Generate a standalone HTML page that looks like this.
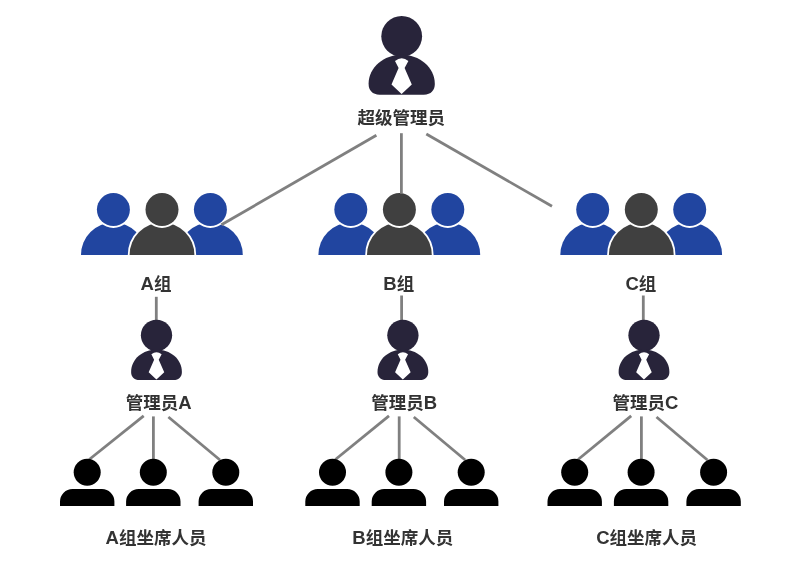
<!DOCTYPE html>
<html lang="zh-CN">
<head>
<meta charset="utf-8">
<title>组织结构</title>
<style>
html,body{margin:0;padding:0;background:#fff;}
body{width:800px;height:561px;overflow:hidden;}
svg{display:block;}
.t .l{font-size:18.5px;}
.t text{font-family:"Liberation Sans","Noto Sans CJK SC",sans-serif;font-weight:bold;font-size:17.5px;fill:#333333;}
svg{will-change:transform;}
</style>
</head>
<body>
<svg width="800" height="561" viewBox="0 0 800 561">
<rect width="800" height="561" fill="#fff"/>
<line x1="426.3" y1="134" x2="552" y2="206.3" stroke="#808080" stroke-width="2.8"/>
<line x1="156.3" y1="296.8" x2="156.3" y2="321" stroke="#808080" stroke-width="2.8"/>
<line x1="401.6" y1="295.5" x2="401.6" y2="321" stroke="#808080" stroke-width="2.8"/>
<line x1="643.3" y1="295.5" x2="643.3" y2="321" stroke="#808080" stroke-width="2.8"/>
<line x1="143.7" y1="415.9" x2="89.2" y2="459.5" stroke="#808080" stroke-width="2.8"/>
<line x1="153.4" y1="416.4" x2="153.4" y2="460" stroke="#808080" stroke-width="2.8"/>
<line x1="168.4" y1="417" x2="220" y2="460" stroke="#808080" stroke-width="2.8"/>
<line x1="389" y1="415.8" x2="335.4" y2="459.5" stroke="#808080" stroke-width="2.8"/>
<line x1="399.2" y1="416.4" x2="399.2" y2="460" stroke="#808080" stroke-width="2.8"/>
<line x1="413.8" y1="417" x2="465.2" y2="460" stroke="#808080" stroke-width="2.8"/>
<line x1="631.2" y1="415.8" x2="578.1" y2="459.5" stroke="#808080" stroke-width="2.8"/>
<line x1="641.4" y1="416.4" x2="641.4" y2="460" stroke="#808080" stroke-width="2.8"/>
<line x1="656.5" y1="417" x2="707.4" y2="460" stroke="#808080" stroke-width="2.8"/>
<g transform="translate(401.7,16) scale(1)">
<circle cx="0" cy="20.3" r="20.4" fill="#28243a"/>
<path d="M-33.1,68 C-33.1,51 -17.5,38.8 0,38.8 C17.5,38.8 33.1,51 33.1,68 C33.1,74 29.5,78.7 22,78.7 L-22,78.7 C-29.5,78.7 -33.1,74 -33.1,68 Z" fill="#28243a"/>
<path d="M-6.7,45 Q0,39.6 6.7,45 L2.9,52 L10.1,68.5 L-0.1,78 L-10.2,68.5 L-3.1,52 Z" fill="#fff"/>
</g>
<g><path d="M81.0,255 A32.4,32.4 0 0 1 145.8,255 Z" fill="#fff" stroke="#fff" stroke-width="3.6"/><path d="M81.0,255 A32.4,32.4 0 0 1 145.8,255 Z" fill="#2145a0"/><circle cx="113.4" cy="209.6" r="18.3" fill="#fff"/><circle cx="113.4" cy="209.6" r="16.5" fill="#2145a0"/><path d="M178.0,255 A32.4,32.4 0 0 1 242.8,255 Z" fill="#fff" stroke="#fff" stroke-width="3.6"/><path d="M178.0,255 A32.4,32.4 0 0 1 242.8,255 Z" fill="#2145a0"/><circle cx="210.4" cy="209.6" r="18.3" fill="#fff"/><circle cx="210.4" cy="209.6" r="16.5" fill="#2145a0"/><path d="M129.6,255 A32.4,32.4 0 0 1 194.4,255 Z" fill="#fff" stroke="#fff" stroke-width="3.6"/><path d="M129.6,255 A32.4,32.4 0 0 1 194.4,255 Z" fill="#404040"/><circle cx="162" cy="209.6" r="18.3" fill="#fff"/><circle cx="162" cy="209.6" r="16.5" fill="#404040"/></g>
<g><path d="M318.4,255 A32.4,32.4 0 0 1 383.2,255 Z" fill="#fff" stroke="#fff" stroke-width="3.6"/><path d="M318.4,255 A32.4,32.4 0 0 1 383.2,255 Z" fill="#2145a0"/><circle cx="350.8" cy="209.6" r="18.3" fill="#fff"/><circle cx="350.8" cy="209.6" r="16.5" fill="#2145a0"/><path d="M415.4,255 A32.4,32.4 0 0 1 480.2,255 Z" fill="#fff" stroke="#fff" stroke-width="3.6"/><path d="M415.4,255 A32.4,32.4 0 0 1 480.2,255 Z" fill="#2145a0"/><circle cx="447.8" cy="209.6" r="18.3" fill="#fff"/><circle cx="447.8" cy="209.6" r="16.5" fill="#2145a0"/><path d="M367.0,255 A32.4,32.4 0 0 1 431.8,255 Z" fill="#fff" stroke="#fff" stroke-width="3.6"/><path d="M367.0,255 A32.4,32.4 0 0 1 431.8,255 Z" fill="#404040"/><circle cx="399.4" cy="209.6" r="18.3" fill="#fff"/><circle cx="399.4" cy="209.6" r="16.5" fill="#404040"/></g>
<g><path d="M560.3,255 A32.4,32.4 0 0 1 625.1,255 Z" fill="#fff" stroke="#fff" stroke-width="3.6"/><path d="M560.3,255 A32.4,32.4 0 0 1 625.1,255 Z" fill="#2145a0"/><circle cx="592.7" cy="209.6" r="18.3" fill="#fff"/><circle cx="592.7" cy="209.6" r="16.5" fill="#2145a0"/><path d="M657.3,255 A32.4,32.4 0 0 1 722.1,255 Z" fill="#fff" stroke="#fff" stroke-width="3.6"/><path d="M657.3,255 A32.4,32.4 0 0 1 722.1,255 Z" fill="#2145a0"/><circle cx="689.7" cy="209.6" r="18.3" fill="#fff"/><circle cx="689.7" cy="209.6" r="16.5" fill="#2145a0"/><path d="M608.9,255 A32.4,32.4 0 0 1 673.7,255 Z" fill="#fff" stroke="#fff" stroke-width="3.6"/><path d="M608.9,255 A32.4,32.4 0 0 1 673.7,255 Z" fill="#404040"/><circle cx="641.3" cy="209.6" r="18.3" fill="#fff"/><circle cx="641.3" cy="209.6" r="16.5" fill="#404040"/></g>
<line x1="376.4" y1="135.2" x2="221.4" y2="224.8" stroke="#808080" stroke-width="2.8"/>
<line x1="401.4" y1="133.2" x2="401.4" y2="193.6" stroke="#808080" stroke-width="2.8"/>
<g transform="translate(156.5,319.75) scale(0.767)">
<circle cx="0" cy="20.3" r="20.4" fill="#28243a"/>
<path d="M-33.1,68 C-33.1,51 -17.5,38.8 0,38.8 C17.5,38.8 33.1,51 33.1,68 C33.1,74 29.5,78.7 22,78.7 L-22,78.7 C-29.5,78.7 -33.1,74 -33.1,68 Z" fill="#28243a"/>
<path d="M-6.7,45 Q0,39.6 6.7,45 L2.9,52 L10.1,68.5 L-0.1,78 L-10.2,68.5 L-3.1,52 Z" fill="#fff"/>
</g>
<g transform="translate(402.9,319.75) scale(0.767)">
<circle cx="0" cy="20.3" r="20.4" fill="#28243a"/>
<path d="M-33.1,68 C-33.1,51 -17.5,38.8 0,38.8 C17.5,38.8 33.1,51 33.1,68 C33.1,74 29.5,78.7 22,78.7 L-22,78.7 C-29.5,78.7 -33.1,74 -33.1,68 Z" fill="#28243a"/>
<path d="M-6.7,45 Q0,39.6 6.7,45 L2.9,52 L10.1,68.5 L-0.1,78 L-10.2,68.5 L-3.1,52 Z" fill="#fff"/>
</g>
<g transform="translate(644,319.75) scale(0.767)">
<circle cx="0" cy="20.3" r="20.4" fill="#28243a"/>
<path d="M-33.1,68 C-33.1,51 -17.5,38.8 0,38.8 C17.5,38.8 33.1,51 33.1,68 C33.1,74 29.5,78.7 22,78.7 L-22,78.7 C-29.5,78.7 -33.1,74 -33.1,68 Z" fill="#28243a"/>
<path d="M-6.7,45 Q0,39.6 6.7,45 L2.9,52 L10.1,68.5 L-0.1,78 L-10.2,68.5 L-3.1,52 Z" fill="#fff"/>
</g>
<circle cx="87.2" cy="472.2" r="13.5" fill="#000"/><path d="M60.0,506 L60.0,501.6 A12.5,12.5 0 0 1 72.5,489.1 L101.9,489.1 A12.5,12.5 0 0 1 114.4,501.6 L114.4,506 Z" fill="#000"/>
<circle cx="153.3" cy="472.2" r="13.5" fill="#000"/><path d="M126.1,506 L126.1,501.6 A12.5,12.5 0 0 1 138.6,489.1 L168.0,489.1 A12.5,12.5 0 0 1 180.5,501.6 L180.5,506 Z" fill="#000"/>
<circle cx="225.8" cy="472.2" r="13.5" fill="#000"/><path d="M198.6,506 L198.6,501.6 A12.5,12.5 0 0 1 211.1,489.1 L240.5,489.1 A12.5,12.5 0 0 1 253.0,501.6 L253.0,506 Z" fill="#000"/>
<circle cx="332.5" cy="472.2" r="13.5" fill="#000"/><path d="M305.3,506 L305.3,501.6 A12.5,12.5 0 0 1 317.8,489.1 L347.2,489.1 A12.5,12.5 0 0 1 359.7,501.6 L359.7,506 Z" fill="#000"/>
<circle cx="398.9" cy="472.2" r="13.5" fill="#000"/><path d="M371.7,506 L371.7,501.6 A12.5,12.5 0 0 1 384.2,489.1 L413.6,489.1 A12.5,12.5 0 0 1 426.1,501.6 L426.1,506 Z" fill="#000"/>
<circle cx="471.2" cy="472.2" r="13.5" fill="#000"/><path d="M444.0,506 L444.0,501.6 A12.5,12.5 0 0 1 456.5,489.1 L485.9,489.1 A12.5,12.5 0 0 1 498.4,501.6 L498.4,506 Z" fill="#000"/>
<circle cx="574.7" cy="472.2" r="13.5" fill="#000"/><path d="M547.5,506 L547.5,501.6 A12.5,12.5 0 0 1 560.0,489.1 L589.4,489.1 A12.5,12.5 0 0 1 601.9,501.6 L601.9,506 Z" fill="#000"/>
<circle cx="641.1" cy="472.2" r="13.5" fill="#000"/><path d="M613.9,506 L613.9,501.6 A12.5,12.5 0 0 1 626.4,489.1 L655.8,489.1 A12.5,12.5 0 0 1 668.3,501.6 L668.3,506 Z" fill="#000"/>
<circle cx="713.6" cy="472.2" r="13.5" fill="#000"/><path d="M686.4,506 L686.4,501.6 A12.5,12.5 0 0 1 698.9,489.1 L728.3,489.1 A12.5,12.5 0 0 1 740.8,501.6 L740.8,506 Z" fill="#000"/>
<g class="t">
<text x="401.3" y="124" text-anchor="middle">超级管理员</text>
<text x="156" y="290.1" text-anchor="middle"><tspan class="l">A</tspan>组</text>
<text x="398.8" y="290.1" text-anchor="middle"><tspan class="l">B</tspan>组</text>
<text x="640.9" y="290.1" text-anchor="middle"><tspan class="l">C</tspan>组</text>
<text x="158.8" y="409.4" text-anchor="middle">管理员<tspan class="l">A</tspan></text>
<text x="404.1" y="409.4" text-anchor="middle">管理员<tspan class="l">B</tspan></text>
<text x="645.5" y="409.4" text-anchor="middle">管理员<tspan class="l">C</tspan></text>
<text x="156" y="543.7" text-anchor="middle"><tspan class="l">A</tspan>组坐席人员</text>
<text x="402.8" y="543.7" text-anchor="middle"><tspan class="l">B</tspan>组坐席人员</text>
<text x="646.6" y="543.7" text-anchor="middle"><tspan class="l">C</tspan>组坐席人员</text>
</g>
</svg>
</body>
</html>
